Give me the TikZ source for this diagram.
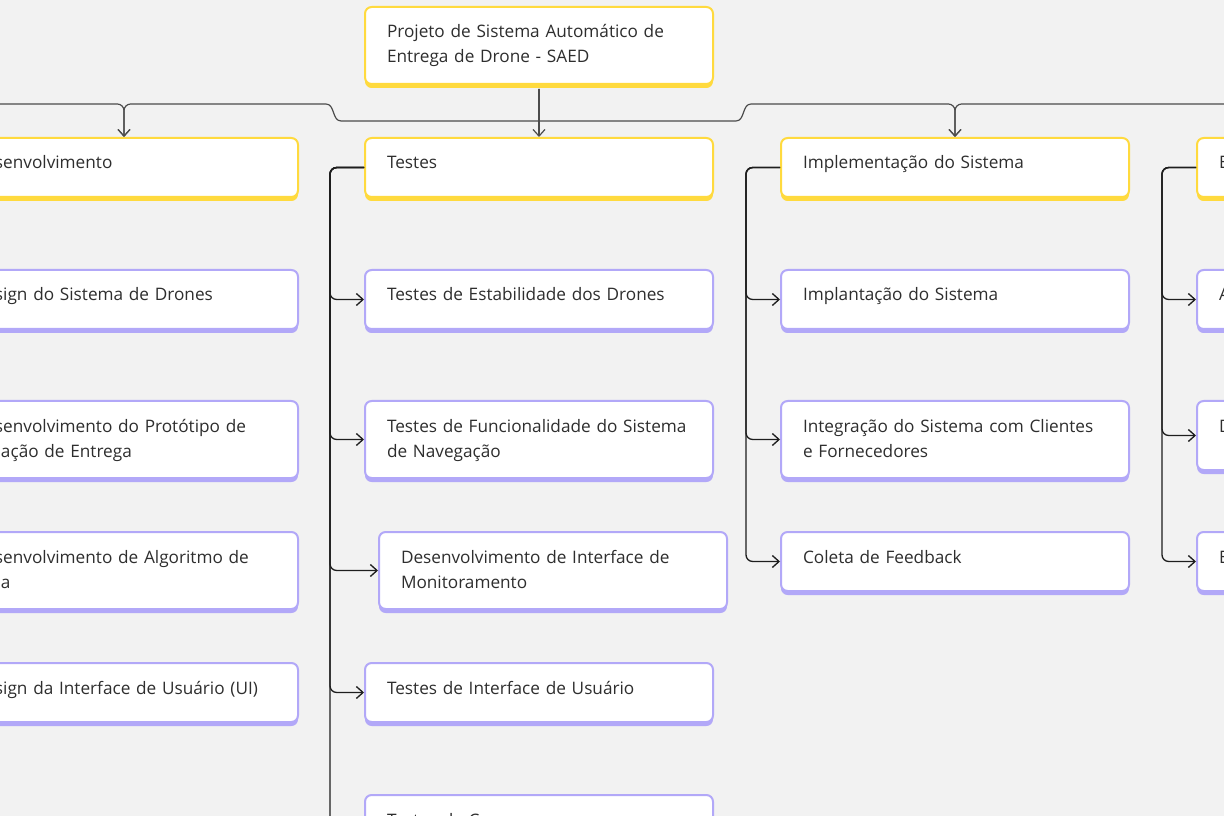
\documentclass[tikz,border=0pt]{standalone}
\usepackage{fontspec}
\setmainfont{Open Sans}
\usetikzlibrary{arrows.meta,shadows}
\definecolor{bgc}{HTML}{F2F2F2}
\definecolor{ylw}{HTML}{FFDA3E}
\definecolor{vio}{HTML}{B2A8F8}
\definecolor{txt}{HTML}{2E2E2E}
\definecolor{lnk}{HTML}{1E1E1E}
\newcommand{\lcut}{\hspace*{17.25pt}}
\newcommand{\lcutb}{\hspace*{21.75pt}}

\begin{document}
\begin{tikzpicture}[x=0.75pt,y=-0.75pt,
  box/.style={draw,fill=white,rounded corners=5pt,line width=1.5pt,anchor=north west,
    text width=228pt,inner xsep=16.5pt,inner ysep=14.25pt,align=left,text height=9pt,
    font=\fontsize{12.9}{18.75}\selectfont,text=txt},
  main/.style={box,draw=ylw,general shadow={fill=ylw,shadow yshift=-3pt}},
  sub/.style={box,draw=vio,general shadow={fill=vio,shadow yshift=-3pt}},
  onel/.style={text depth=6.75pt},
  twol/.style={text depth=20.25pt},
  link/.style={draw=lnk,line width=1pt,rounded corners=5pt},
  toplink/.style={draw=black!70,line width=0.9pt},
  >={Straight Barb[length=5pt,width=9pt]}]
  \useasboundingbox (0,0) rectangle (1224,816);
  \fill[bgc] (0,0) rectangle (1224,816);
  \clip (0,0) rectangle (1224,816);

  \node[main,twol] (root) at (364,6) {Projeto de Sistema Automático de\\Entrega de Drone - SAED};

  % first level
  \node[main,onel] (dev) at (-51,137) {\lcut senvolvimento};
  \node[main,onel] (tst) at (364,137) {Testes};
  \node[main,onel] (imp) at (780,137) {Implementação do Sistema};
  \node[main,onel] (fim) at (1196,137) {E};

  % tasks
  \node[sub,onel] (d1) at (-51,269) {\lcut sign do Sistema de Drones};
  \node[sub,twol] (d2) at (-51,400) {\lcut senvolvimento do Protótipo de\\\lcutb ação de Entrega};
  \node[sub,twol] (d3) at (-51,531) {\lcut senvolvimento de Algoritmo de\\\lcutb a};
  \node[sub,onel] (d4) at (-51,662) {\lcut sign da Interface de Usuário (UI)};

  \node[sub,onel] (t1) at (364,269) {Testes de Estabilidade dos Drones};
  \node[sub,twol] (t2) at (364,400) {Testes de Funcionalidade do Sistema\\de Navegação};
  \node[sub,twol] (t3) at (378,531) {Desenvolvimento de Interface de\\Monitoramento};
  \node[sub,onel] (t4) at (364,662) {Testes de Interface de Usuário};
  \node[sub,onel] (t5) at (364,794) {Testes de C};

  \node[sub,onel] (i1) at (780,269) {Implantação do Sistema};
  \node[sub,twol] (i2) at (780,400) {Integração do Sistema com Clientes\\e Fornecedores};
  \node[sub,onel] (i3) at (780,531) {Coleta de Feedback};

  \node[sub,onel] (f1) at (1196,269) {A};
  \node[sub,text depth=14.25pt] (f2) at (1196,400) {D};
  \node[sub,onel] (f3) at (1196,531) {E};

  % links from the root
  \coordinate (lft) at (-10,104);
  \coordinate (rgt) at (1234,104);
  \draw[toplink,->] ([yshift=-3pt]root.south) -- (tst.north);
  \draw[toplink,->] ([yshift=-3pt]root.south) |- (341,121) .. controls (332,121) and (335,104) .. (326,104)
    [rounded corners=5pt] -| (dev.north);
  \draw[toplink,->,rounded corners=5pt] (lft) -| (dev.north);
  \draw[toplink,->] ([yshift=-3pt]root.south) |- (736,121) .. controls (745,121) and (742,104) .. (751,104)
    [rounded corners=5pt] -| (imp.north);
  \draw[toplink,->,rounded corners=5pt] (rgt) -| (imp.north);

  % links down each column
  \foreach \c in {t1,t2,t3,t4,t5} \draw[link,->] (tst.west) -- ++(-34,0) |- (\c.west);
  \foreach \c in {i1,i2,i3} \draw[link,->] (imp.west) -- ++(-34,0) |- (\c.west);
  \foreach \c in {f1,f2,f3} \draw[link,->] (fim.west) -- ++(-34,0) |- (\c.west);
\end{tikzpicture}
\end{document}
